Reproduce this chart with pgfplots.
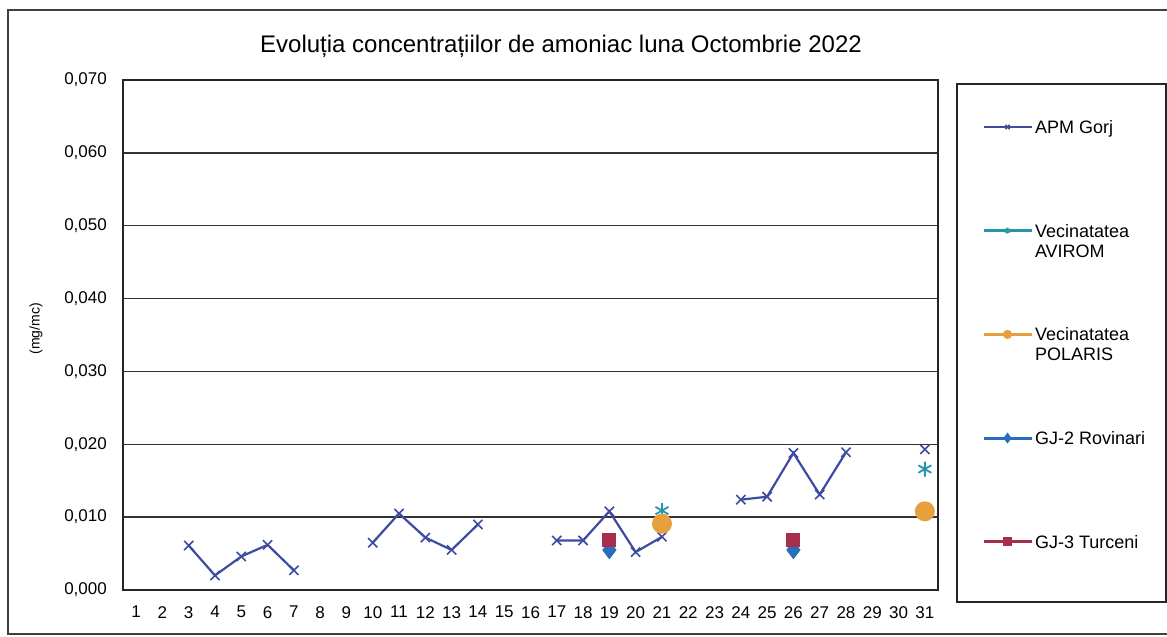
\documentclass[border=0pt]{standalone}
\usepackage{fontspec}
\setmainfont{Liberation Sans}
\usepackage{pgfplots}
\pgfplotsset{compat=1.18}
\definecolor{apm}{RGB}{62,76,160}
\definecolor{avirom}{RGB}{38,150,172}
\definecolor{polaris}{RGB}{232,160,62}
\definecolor{rovinari}{RGB}{40,110,185}
\definecolor{turceni}{RGB}{168,46,78}
\begin{document}
\begin{tikzpicture}[x=1pt,y=1pt]
\useasboundingbox[fill=white] (0,0) rectangle (1167,637);
\draw[line width=2pt, black!75] (8,3) rectangle (1200,627);
\draw[line width=1.8pt, black!85] (957,35) rectangle (1166,553);
\begin{axis}[
  at={(123pt,47pt)}, anchor=south west,
  scale only axis, width=815pt, height=510pt,
  xmin=0.5, xmax=31.5, ymin=0, ymax=0.07,
  xtick={1,...,31},
  ytick={0,0.01,0.02,0.03,0.04,0.05,0.06,0.07},
  scaled y ticks=false,
  major tick length=0pt,
  ymajorgrids, grid style={black!80, line width=1.4pt},
  axis line style={black!85, line width=1.6pt},
  /pgf/number format/assume math mode=true,
  tick label style={font=\fontsize{17}{20}\selectfont, inner sep=0pt},
  yticklabel style={anchor=east, xshift=-16pt,
    /pgf/number format/.cd, use comma, fixed, fixed zerofill, precision=3},
  xticklabel style={anchor=north, yshift=-16pt},
  title={Evoluția concentrațiilor de amoniac luna Octombrie 2022},
  title style={at={(axis description cs:0.5374,1.0549)}, anchor=center,
    font=\fontsize{24}{28}\selectfont},
  ylabel={(mg/mc)},
  ylabel style={at={(axis description cs:-0.1067,0.512)}, anchor=center,
    font=\fontsize{14}{16}\selectfont},
  unbounded coords=jump,
  legend style={at={(axis description cs:1.054,0.9204)}, anchor=north west,
    draw=none, fill=none, inner sep=0pt, outer sep=0pt,
    row sep=90.9pt, column sep=2pt,
    font=\fontsize{18}{20}\selectfont,
    nodes={inner sep=0pt, text height=12.8pt, text depth=0pt}},
  legend cell align=left,
  legend image code/.code={\draw[mark repeat=2,mark phase=2,#1]
    plot coordinates {(0pt,0pt) (24pt,0pt) (48pt,0pt)};},
  legend image post style={mark size=3pt},
]
\addplot[apm, line width=2.2pt, mark=x, mark size=6.5pt,
  mark options={solid, line width=1.6pt}] coordinates {
  (3,0.0061) (4,0.0020) (5,0.0046) (6,0.0062) (7,0.0027) (8,nan)
  (10,0.0065) (11,0.0105) (12,0.0072) (13,0.0055) (14,0.0090) (15,nan)
  (17,0.0068) (18,0.0068) (19,0.0108) (20,0.0052) (21,0.0073) (22,nan)
  (24,0.0124) (25,0.0128) (26,0.0188) (27,0.0131) (28,0.0189) (29,nan)
  (31,0.0193)};
\addlegendentry{APM Gorj}
\addplot[avirom, line width=3pt, mark=asterisk, mark size=7.5pt,
  mark options={solid, line width=1.8pt}] coordinates {
  (21,0.0109) (22,nan) (31,0.0166)};
\addlegendentry{\parbox[t]{130pt}{Vecinatatea\\AVIROM}}
\addplot[polaris, line width=3pt, mark=*, mark size=8.5pt,
  mark options={solid}] coordinates {
  (21,0.0091) (22,nan) (31,0.0108)};
\addlegendentry{\parbox[t]{130pt}{Vecinatatea\\POLARIS}}
\addplot[rovinari, line width=3pt, mark=diamond*, mark size=7pt,
  mark options={solid}] coordinates {
  (19,0.0055) (20,nan) (26,0.0055)};
\addlegendentry{GJ-2 Rovinari}
\addplot[turceni, line width=3pt, mark=square*, mark size=5.5pt,
  mark options={solid}] coordinates {
  (19,0.0068) (20,nan) (26,0.0068)};
\addlegendentry{GJ-3 Turceni}
\end{axis}
\end{tikzpicture}
\end{document}
